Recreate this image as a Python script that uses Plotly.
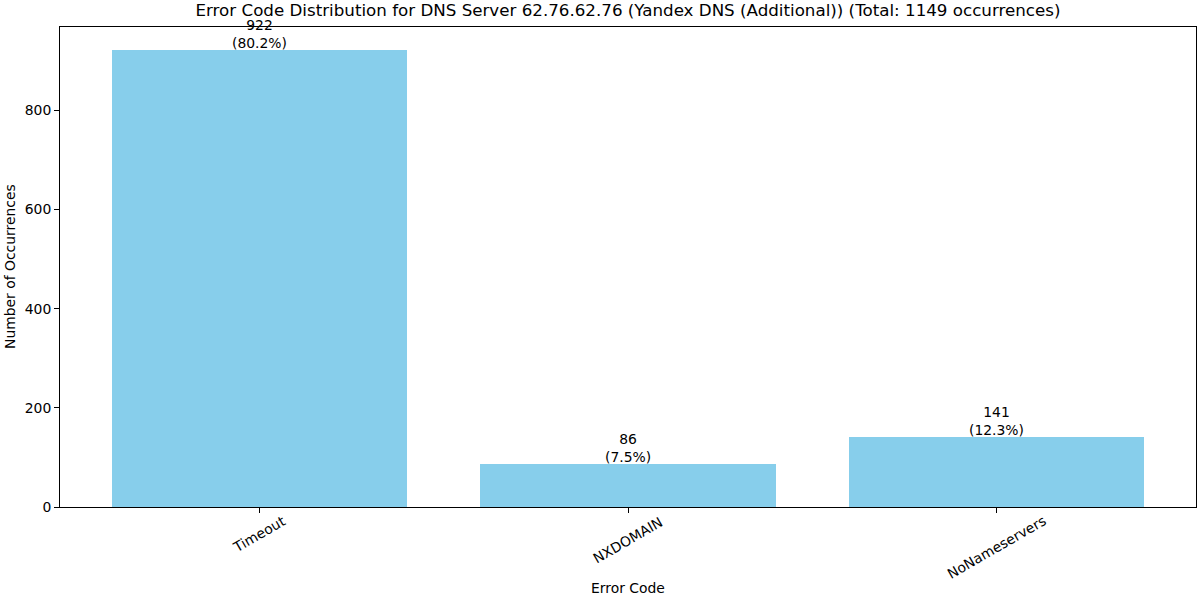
import plotly.graph_objects as go

categories = ["Timeout", "NXDOMAIN", "NoNameservers"]
counts = [922, 86, 141]
percents = ["80.2%", "7.5%", "12.3%"]
total = 1149
title_text = "Error Code Distribution for DNS Server 62.76.62.76 (Yandex DNS (Additional)) (Total: 1149 occurrences)"

FONT = "DejaVu Sans"
xpos = list(range(len(categories)))

fig = go.Figure()
fig.add_trace(go.Bar(x=xpos, y=counts, width=0.8, marker=dict(color="#87CEEB", line=dict(width=0)),
                     hoverinfo="skip"))

annotations = []
for i, (c, p) in enumerate(zip(counts, percents)):
    annotations.append(dict(x=i, y=c, xref="x", yref="y", text=f"{c}<br>({p})", showarrow=False,
                            xanchor="center", yanchor="bottom", yshift=-3,
                            font=dict(family=FONT, size=13.9, color="black")))

# rotated tick labels centred on ticks (matplotlib style)
shifts = [-27, -33, -40]
for i, (cat, s) in enumerate(zip(categories, shifts)):
    annotations.append(dict(x=i, y=0, xref="x", yref="y", text=cat, showarrow=False, textangle=-30,
                            xanchor="center", yanchor="middle", yshift=s,
                            font=dict(family=FONT, size=13.9, color="black")))

annotations.append(dict(x=0.5, y=0, xref="paper", yref="paper", text="Error Code", showarrow=False,
                        xanchor="center", yanchor="middle", yshift=-81,
                        font=dict(family=FONT, size=13.9, color="black")))
annotations.append(dict(x=0, y=0.5, xref="paper", yref="paper", text="Number of Occurrences", showarrow=False,
                        textangle=-90, xanchor="center", yanchor="middle", xshift=-50,
                        font=dict(family=FONT, size=13.9, color="black")))

fig.update_layout(
    width=1200, height=600,
    margin=dict(l=60, r=4, t=27, b=93, autoexpand=False),
    paper_bgcolor="white", plot_bgcolor="white",
    showlegend=False,
    title=dict(text=title_text, x=0.5, xref="paper", y=1 - 10 / 600, yref="container",
               xanchor="center", yanchor="middle",
               font=dict(family=FONT, size=16.7, color="black")),
    annotations=annotations,
    bargap=0,
)
fig.update_xaxes(range=[-0.54, 2.54], tickvals=xpos, showticklabels=False, ticks="outside", ticklen=5,
                 tickcolor="black", showline=True, linecolor="black", linewidth=1, mirror=True,
                 showgrid=False, zeroline=False)
fig.update_yaxes(range=[0, max(counts) * 1.05], tickvals=[0, 200, 400, 600, 800], ticks="outside", ticklen=5,
                 tickcolor="black", showline=True, linecolor="black", linewidth=1, mirror=True,
                 showgrid=False, zeroline=False,
                 tickfont=dict(family=FONT, size=13.9, color="black"))

fig.write_html("out.html", config={"responsive": False, "displayModeBar": False},
               post_script="document.body.style.margin='0';document.body.style.overflow='hidden';")
